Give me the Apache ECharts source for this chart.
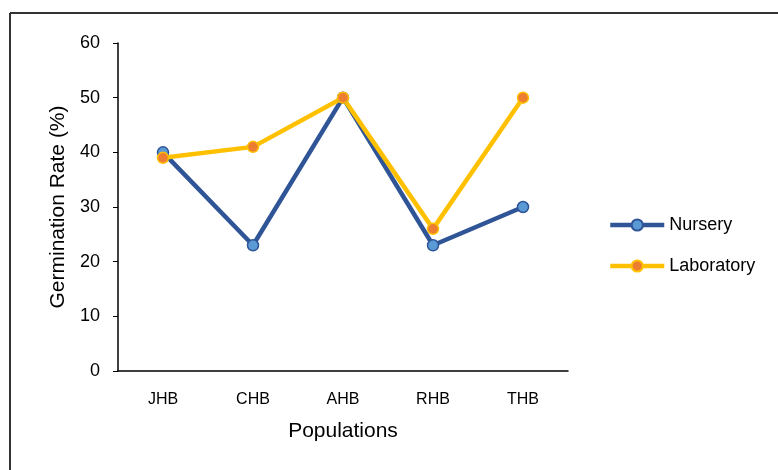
<!DOCTYPE html>
<html>
<head>
<meta charset="utf-8">
<script src="https://cdn.jsdelivr.net/npm/echarts@6/dist/echarts.min.js"></script>
<style>
  html, body { margin: 0; padding: 0; background: #fff; }
  #chart { width: 778px; height: 470px; }
</style>
</head>
<body>
<div id="chart"></div>
<script>
const populations = ['JHB', 'CHB', 'AHB', 'RHB', 'THB'];
const nursery = [40, 23, 50, 23, 30];
const laboratory = [39, 41, 50, 26, 50];
const yTicks = { min: 0, max: 60, interval: 10 };

const font = 'Liberation Sans, Arial, sans-serif';
const chart = echarts.init(document.getElementById('chart'), null, { renderer: 'canvas' });

chart.setOption({
  backgroundColor: '#fff',
  animation: false,
  textStyle: { fontFamily: font },
  graphic: [
    // outer frame (top and left edges visible)
    { type: 'line', shape: { x1: 10, y1: 13, x2: 778, y2: 13 }, style: { stroke: '#333', lineWidth: 2 } },
    { type: 'line', shape: { x1: 10, y1: 13, x2: 10, y2: 470 }, style: { stroke: '#333', lineWidth: 2 } }
  ],
  grid: { left: 118, right: 210, top: 43, bottom: 99 },
  legend: {
    orient: 'vertical',
    left: 608,
    top: 216,
    padding: 0,
    itemGap: 23,
    itemWidth: 54,
    itemHeight: 14,
    lineStyle: { width: 4.5 },
    textStyle: { fontFamily: font, fontSize: 18, color: '#000', padding: [0, 0, 0, 0] },
    data: ['Nursery', 'Laboratory']
  },
  xAxis: {
    type: 'category',
    data: populations,
    boundaryGap: true,
    name: 'Populations',
    nameLocation: 'middle',
    nameGap: 50,
    nameTextStyle: { fontFamily: font, fontSize: 21, color: '#000' },
    axisLine: { lineStyle: { color: '#000', width: 1.5 } },
    axisTick: { show: false },
    axisLabel: { color: '#000', fontSize: 16, fontFamily: font, margin: 21 }
  },
  yAxis: {
    type: 'value',
    min: yTicks.min,
    max: yTicks.max,
    interval: yTicks.interval,
    name: 'Germination Rate (%)',
    nameLocation: 'middle',
    nameGap: 44,
    nameTextStyle: { fontFamily: font, fontSize: 21, color: '#000' },
    axisLine: { show: true, lineStyle: { color: '#000', width: 1.5 } },
    axisTick: { show: true, length: 5, lineStyle: { color: '#000' } },
    axisLabel: { color: '#000', fontSize: 18, fontFamily: font, margin: 18 },
    splitLine: { show: false }
  },
  series: [
    {
      name: 'Nursery',
      type: 'line',
      data: nursery,
      symbol: 'circle',
      symbolSize: 11,
      lineStyle: { color: '#2F5597', width: 4.5 },
      itemStyle: { color: '#5B9BD5', borderColor: '#2F5597', borderWidth: 1.5 }
    },
    {
      name: 'Laboratory',
      type: 'line',
      data: laboratory,
      symbol: 'circle',
      symbolSize: 11,
      lineStyle: { color: '#FFC000', width: 4.5 },
      itemStyle: { color: '#ED7D31', borderColor: '#FFC000', borderWidth: 1.5 }
    }
  ]
});
</script>
</body>
</html>
